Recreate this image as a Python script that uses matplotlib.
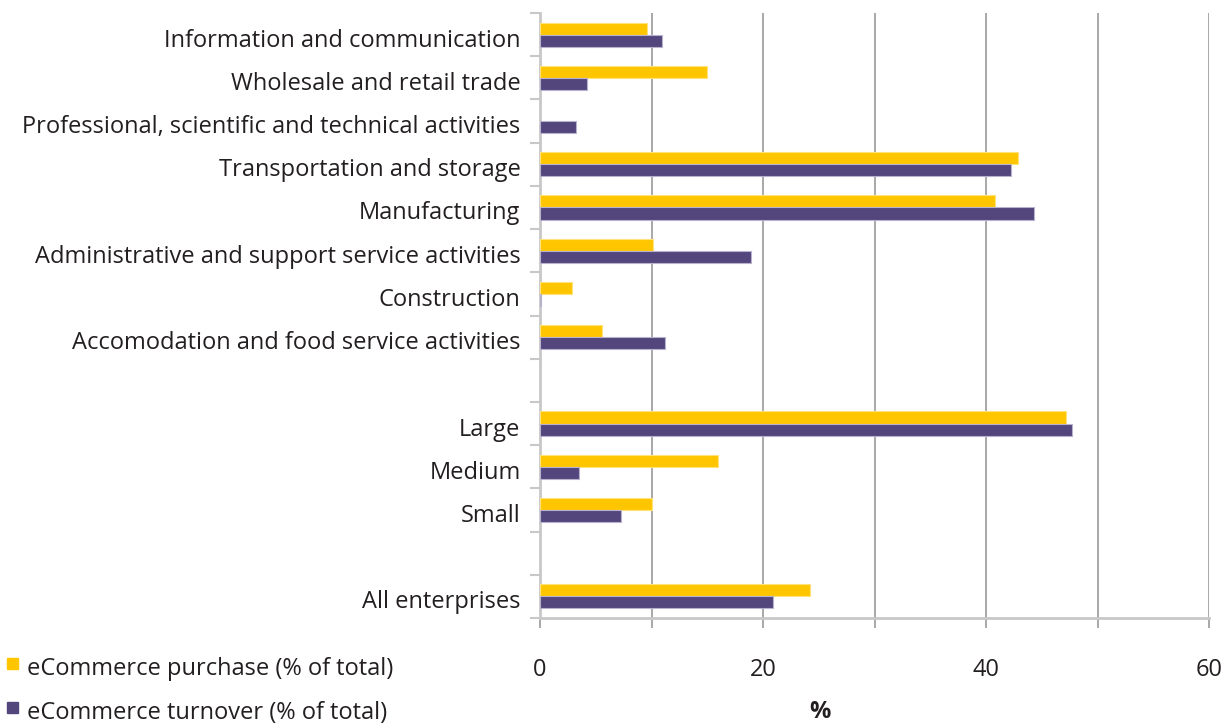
import matplotlib
matplotlib.use("Agg")
import matplotlib.pyplot as plt
import numpy as np

plt.rcParams['font.family'] = ['Open Sans', 'DejaVu Sans']

categories = [
    "Information and communication",
    "Wholesale and retail trade",
    "Professional, scientific and technical activities",
    "Transportation and storage",
    "Manufacturing",
    "Administrative and support service activities",
    "Construction",
    "Accomodation and food service activities",
    "",
    "Large",
    "Medium",
    "Small",
    "",
    "All enterprises",
]
purchase = [9.6, 15.0, 0.0, 42.9, 40.8, 10.1, 2.9, 5.6, np.nan, 47.2, 16.0, 10.0, np.nan, 24.2]
turnover = [10.9, 4.2, 3.2, 42.2, 44.3, 18.9, 0.1, 11.2, np.nan, 47.7, 3.5, 7.3, np.nan, 20.9]
x_ticks = [0, 10, 20, 30, 40, 50, 60]
x_ticklabels = ["0", "", "20", "", "40", "", "60"]

YELLOW = "#FFC600"
PURPLE = "#52467D"
GRID = "#9a9a9a"
AXIS = "#c8c8c8"
TEXT = "#231f20"
FS = 17

fig = plt.figure(figsize=(12.32, 7.25), dpi=100)
ax = fig.add_axes([540 / 1232, 1 - 618 / 725, (1209 - 540) / 1232, (618 - 13) / 725])

pos = np.arange(len(categories))
h = 0.28
p = np.array(purchase, dtype=float)
t = np.array(turnover, dtype=float)
mp = np.nan_to_num(p) > 0
mt = np.nan_to_num(t) > 0
ax.barh(pos[mp] - h / 2, p[mp], height=h, color=YELLOW, edgecolor="#ffe27a", linewidth=0.8, zorder=3)
ax.barh(pos[mt] + h / 2, t[mt], height=h, color=PURPLE, edgecolor="#b8b2cc", linewidth=0.8, zorder=3)

ax.set_xlim(0, 60)
ax.set_ylim(len(categories) - 0.5, -0.5)

# vertical gridlines
for v in x_ticks[1:]:
    ax.axvline(v, color=GRID, lw=1.2, zorder=1)

# category axis: boundary tick marks, labels near slot centres
ax.set_yticks(np.arange(-0.5, len(categories), 1.0))
ax.set_yticklabels([])
ax.set_yticks(pos + 0.07, minor=True)
ax.set_yticklabels(categories, minor=True, fontsize=FS, color=TEXT)
ax.tick_params(axis="y", which="major", length=7, width=1.5, color=AXIS)
ax.tick_params(axis="y", which="minor", length=0, pad=14)

ax.set_xticks(x_ticks)
ax.set_xticklabels(x_ticklabels, fontsize=FS, color=TEXT)
ax.tick_params(axis="x", length=7, width=1.2, color=GRID, pad=22)

for s in ["top", "right"]:
    ax.spines[s].set_visible(False)
ax.spines["left"].set_color(AXIS)
ax.spines["left"].set_linewidth(2)
ax.spines["bottom"].set_color(AXIS)
ax.spines["bottom"].set_linewidth(2)

fig.text(820 / 1232, 1 - 712 / 725, "%", fontsize=FS, fontweight="bold", color=TEXT,
         ha="center", va="center")

# legend drawn as coloured squares plus text
legend_items = [("eCommerce purchase (% of total)", YELLOW, 668),
                ("eCommerce turnover (% of total)", PURPLE, 712)]
for label, col, y in legend_items:
    fig.patches.append(plt.Rectangle((7 / 1232, 1 - (y + 1) / 725), 11 / 1232, 11 / 725,
                                     transform=fig.transFigure, color=col))
    fig.text(27 / 1232, 1 - (y + 1) / 725, label, fontsize=FS, color=TEXT, ha="left", va="center")

fig.savefig("out.png", dpi=100)
